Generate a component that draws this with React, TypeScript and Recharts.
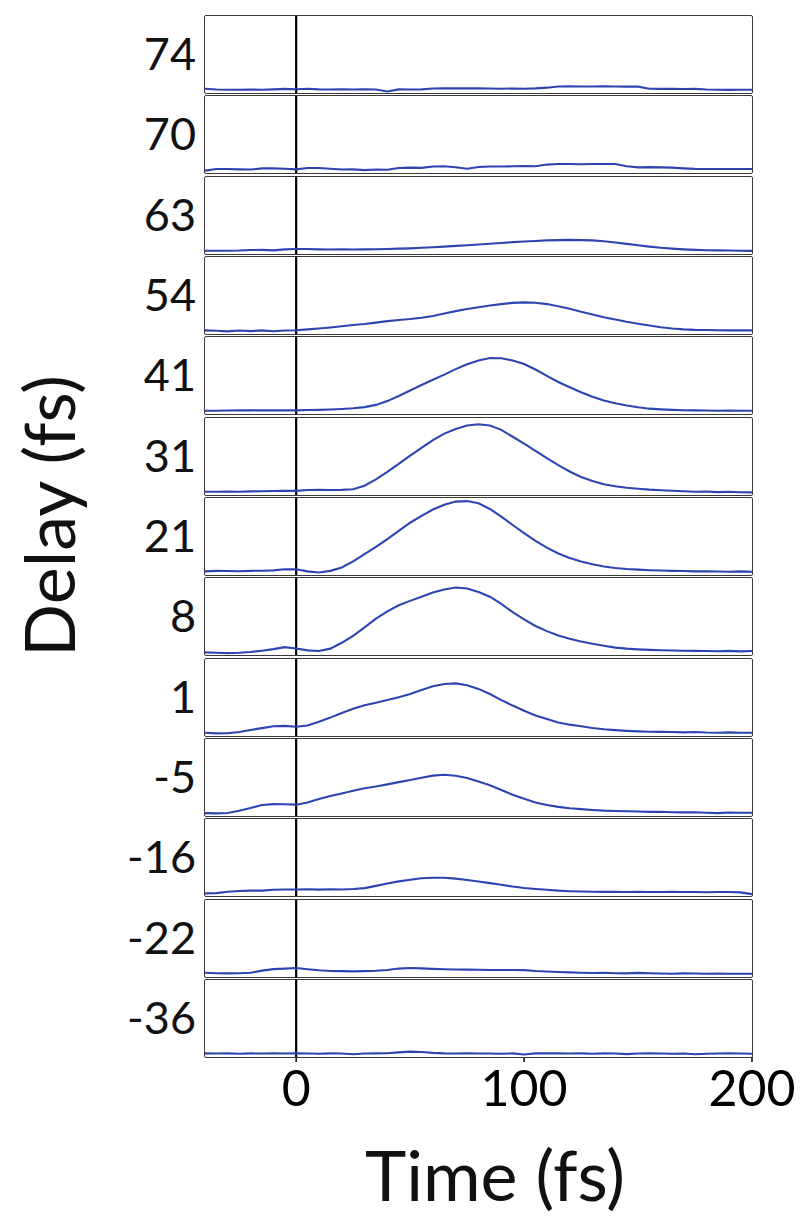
import React from 'react';
import { LineChart, Line, XAxis, YAxis, ReferenceLine } from 'recharts';

const TIME = [-40, -35, -30, -25, -20, -15, -10, -5, 0, 5, 10, 15, 20, 25, 30, 35, 40, 45, 50, 55, 60, 65, 70, 75, 80, 85, 90, 95, 100, 105, 110, 115, 120, 125, 130, 135, 140, 145, 150, 155, 160, 165, 170, 175, 180, 185, 190, 195, 200];

const DELAY_LABELS = ['74', '70', '63', '54', '41', '31', '21', '8', '1', '-5', '-16', '-22', '-36'];

const S74 = [0.06, 0.01, 0, 0, 0.01, 0, 0.02, 0.05, 0.03, 0.06, 0.02, 0.01, 0.02, 0.01, 0.02, 0.01, -0.1, 0.02, 0.01, 0.02, 0.07, 0.08, 0.09, 0.08, 0.09, 0.07, 0.06, 0.07, 0.06, 0.08, 0.12, 0.19, 0.2, 0.19, 0.19, 0.2, 0.19, 0.18, 0.18, 0.06, 0.05, 0.06, 0.04, 0.05, 0.01, 0, -0.01, 0, 0];
const S70 = [-0.05, 0.04, 0.04, 0.02, 0.01, 0.08, 0.08, 0.06, 0.02, 0.1, 0.1, 0.06, 0.01, 0.02, -0.02, 0.01, 0.0, 0.1, 0.12, 0.11, 0.19, 0.2, 0.14, 0.06, 0.16, 0.19, 0.19, 0.2, 0.22, 0.2, 0.3, 0.33, 0.33, 0.32, 0.33, 0.33, 0.33, 0.2, 0.14, 0.15, 0.14, 0.12, 0.08, 0.05, 0.04, 0.04, 0.04, 0.04, 0.04];
const S63 = [0, 0, 0, 0.01, 0.04, 0.05, 0.02, 0.08, 0.1, 0.1, 0.08, 0.07, 0.08, 0.07, 0.08, 0.09, 0.1, 0.12, 0.14, 0.17, 0.2, 0.24, 0.28, 0.32, 0.36, 0.41, 0.45, 0.5, 0.54, 0.57, 0.6, 0.62, 0.63, 0.62, 0.6, 0.55, 0.48, 0.4, 0.32, 0.24, 0.17, 0.12, 0.08, 0.05, 0.03, 0.02, 0.01, 0, -0.01];
const S54 = [0.02, 0, -0.04, 0.01, -0.02, 0.02, -0.03, 0.01, 0.03, 0.08, 0.13, 0.19, 0.26, 0.33, 0.39, 0.47, 0.56, 0.62, 0.68, 0.76, 0.86, 1.0, 1.14, 1.26, 1.37, 1.47, 1.55, 1.62, 1.65, 1.63, 1.55, 1.42, 1.28, 1.1, 0.94, 0.78, 0.65, 0.52, 0.41, 0.3, 0.2, 0.13, 0.08, 0.05, 0.04, 0.03, 0.02, 0.02, 0.02];
const S41 = [0, 0, 0.01, 0.03, 0.02, 0.03, 0.02, 0.03, 0.02, 0.04, 0.05, 0.07, 0.1, 0.14, 0.21, 0.34, 0.56, 0.86, 1.18, 1.5, 1.8, 2.1, 2.42, 2.7, 2.92, 3.07, 3.05, 2.92, 2.72, 2.4, 2.03, 1.67, 1.37, 1.08, 0.82, 0.6, 0.44, 0.3, 0.2, 0.12, 0.08, 0.05, 0.03, 0.02, 0.01, 0.0, 0.01, 0, 0];
const S31 = [0, 0, 0.01, 0, 0.02, 0.03, 0.04, 0.06, 0.05, 0.1, 0.11, 0.1, 0.11, 0.14, 0.35, 0.72, 1.15, 1.62, 2.1, 2.55, 3.0, 3.38, 3.65, 3.85, 3.93, 3.85, 3.6, 3.2, 2.8, 2.38, 1.95, 1.55, 1.18, 0.86, 0.62, 0.44, 0.32, 0.23, 0.17, 0.12, 0.09, 0.06, 0.03, 0.0, 0.01, -0.02, 0.0, -0.03, -0.04];
const S21 = [0.02, 0.05, 0.04, 0.03, 0.05, 0.06, 0.08, 0.14, 0.14, 0.02, -0.04, 0.05, 0.25, 0.6, 1.02, 1.45, 1.9, 2.38, 2.85, 3.25, 3.62, 3.9, 4.08, 4.11, 3.98, 3.65, 3.2, 2.72, 2.25, 1.8, 1.4, 1.06, 0.8, 0.6, 0.43, 0.3, 0.22, 0.16, 0.12, 0.09, 0.07, 0.05, 0.04, 0.02, 0.03, 0.01, 0.0, 0.02, 0.0];
const S8 = [-0.04, -0.06, -0.08, -0.06, -0.02, 0.06, 0.15, 0.27, 0.19, 0.08, 0.04, 0.18, 0.52, 0.92, 1.42, 1.92, 2.35, 2.7, 2.96, 3.2, 3.44, 3.62, 3.74, 3.68, 3.48, 3.2, 2.78, 2.3, 1.88, 1.5, 1.2, 0.95, 0.75, 0.6, 0.47, 0.35, 0.24, 0.18, 0.14, 0.11, 0.09, 0.07, 0.06, 0.05, 0.04, 0.03, 0.05, 0.02, 0.04];
const S1 = [0, -0.04, -0.03, 0.04, 0.16, 0.27, 0.38, 0.4, 0.35, 0.42, 0.64, 0.88, 1.15, 1.4, 1.6, 1.75, 1.9, 2.06, 2.25, 2.48, 2.7, 2.84, 2.87, 2.76, 2.55, 2.25, 1.9, 1.58, 1.28, 1.0, 0.8, 0.6, 0.47, 0.38, 0.28, 0.2, 0.15, 0.11, 0.08, 0.06, 0.05, 0.04, 0.02, 0.04, 0.01, 0.0, 0.02, 0.0, 0.0];
const SM5 = [-0.02, -0.04, -0.02, 0.12, 0.28, 0.45, 0.5, 0.49, 0.47, 0.6, 0.8, 0.97, 1.12, 1.28, 1.42, 1.53, 1.65, 1.78, 1.9, 2.04, 2.16, 2.21, 2.15, 2.02, 1.82, 1.6, 1.32, 1.05, 0.82, 0.6, 0.45, 0.34, 0.26, 0.21, 0.16, 0.12, 0.1, 0.09, 0.07, 0.05, 0.06, 0.03, 0.02, 0.03, 0.0, -0.02, 0.01, 0.0, 0.0];
const SM16 = [-0.04, -0.02, 0.06, 0.1, 0.12, 0.12, 0.17, 0.19, 0.19, 0.2, 0.18, 0.2, 0.19, 0.22, 0.27, 0.4, 0.54, 0.66, 0.76, 0.84, 0.87, 0.87, 0.82, 0.74, 0.65, 0.56, 0.46, 0.36, 0.28, 0.22, 0.17, 0.12, 0.09, 0.07, 0.06, 0.05, 0.06, 0.04, 0.05, 0.04, 0.04, 0.05, 0.04, 0.04, 0.03, 0.04, 0.04, 0.02, -0.08];
const SM22 = [0.06, 0.03, 0.02, 0.03, 0.06, 0.18, 0.27, 0.3, 0.33, 0.26, 0.2, 0.16, 0.15, 0.14, 0.15, 0.17, 0.22, 0.3, 0.33, 0.31, 0.28, 0.26, 0.25, 0.24, 0.23, 0.22, 0.22, 0.22, 0.21, 0.16, 0.13, 0.1, 0.08, 0.06, 0.04, 0.06, 0.03, 0.02, 0.05, 0.03, 0.01, 0.0, 0.02, 0.01, 0.0, 0.01, 0.0, 0.0, 0.0];
const SM36 = [0.02, 0.01, 0.02, 0.0, 0.02, 0.01, 0.02, 0.01, 0.02, 0.01, 0.0, 0.02, 0.01, -0.03, 0.01, 0.02, 0.03, 0.08, 0.12, 0.1, 0.05, 0.02, 0.01, 0.02, 0.01, 0.01, 0.0, 0.02, -0.04, 0.02, 0.03, 0.02, 0.01, 0.02, 0.0, 0.02, 0.01, -0.02, 0.01, 0.02, 0.01, 0.0, 0.01, -0.03, 0.0, 0.01, 0.02, 0.01, 0.0];

const SERIES = [S74, S70, S63, S54, S41, S31, S21, S8, S1, SM5, SM16, SM22, SM36];

const X_TICKS = [0, 100, 200];
const Y_TICKS = [0, 1, 2, 3, 4];

const FONT = 'Lato, "Open Sans", sans-serif';
const LINE_COLOR = '#2d45b0';

const LEFT = 205;
const PLOT_W = 547;
const PLOT_H = 77;
const FIRST_TOP = 16;
const STEP = 80.33;
const EXTRA_RIGHT = 60;
const AXIS_H = 70;

function Panel({ idx }: { idx: number }) {
  const data = TIME.map((t, i) => ({ t, v: SERIES[idx][i] }));
  const top = Math.round(FIRST_TOP + idx * STEP);
  const isLast = idx === SERIES.length - 1;
  const h = PLOT_H + (isLast ? AXIS_H : 0);
  return (
    <>
      <div style={{ position: 'absolute', left: LEFT, top }}>
        <LineChart
          width={PLOT_W + EXTRA_RIGHT}
          height={h}
          data={data}
          margin={{ top: 0, right: EXTRA_RIGHT, bottom: 0, left: 0 }}
          style={{ overflow: 'visible' }}
        >
          <XAxis
            dataKey="t"
            type="number"
            domain={[-40, 200]}
            ticks={X_TICKS}
            hide={!isLast}
            height={AXIS_H}
            axisLine={false}
            tickLine={{ stroke: '#000', strokeWidth: 1.5 }}
            tickSize={5}
            tick={{ fontSize: 50, fill: '#000', fontFamily: FONT, dy: 6 }}
            interval={0}
            allowDataOverflow
          />
          <YAxis
            type="number"
            domain={[-0.19, 4.29]}
            ticks={Y_TICKS}
            width={0}
            mirror
            axisLine={false}
            tickSize={4}
            tickLine={{ stroke: '#222', strokeWidth: 1.2 }}
            tickFormatter={() => ''}
            allowDataOverflow
          />
          <ReferenceLine x={0} stroke="#000" strokeWidth={2.2} ifOverflow="visible" />
          <Line
            type="linear"
            dataKey="v"
            stroke={LINE_COLOR}
            strokeWidth={2.1}
            dot={false}
            isAnimationActive={false}
          />
        </LineChart>
      </div>
      <div
        style={{
          position: 'absolute',
          left: LEFT - 1,
          top: top - 1,
          width: PLOT_W,
          height: PLOT_H,
          border: '1.6px solid #3a3a3a',
          borderRadius: 2,
          pointerEvents: 'none',
        }}
      />
      <div
        style={{
          position: 'absolute',
          left: 0,
          width: 196,
          top: top + 37 - 28,
          height: 56,
          lineHeight: '56px',
          textAlign: 'right',
          fontFamily: FONT,
          fontSize: 45,
          color: '#111',
        }}
      >
        {DELAY_LABELS[idx]}
      </div>
    </>
  );
}

export default function App() {
  return (
    <div
      style={{
        position: 'absolute',
        left: 0,
        top: 0,
        width: 810,
        height: 1217,
        background: '#fff',
        overflow: 'hidden',
      }}
    >
      {SERIES.map((_, i) => (
        <Panel key={i} idx={i} />
      ))}
      <div
        style={{
          position: 'absolute',
          left: 48 - 250,
          top: 516 - 45,
          width: 500,
          height: 90,
          lineHeight: '90px',
          textAlign: 'center',
          transform: 'rotate(-90deg)',
          fontFamily: FONT,
          fontSize: 70,
          color: '#111',
        }}
      >
        Delay (fs)
      </div>
      <div
        style={{
          position: 'absolute',
          left: 495 - 250,
          top: 1174 - 45,
          width: 500,
          height: 90,
          lineHeight: '90px',
          textAlign: 'center',
          fontFamily: FONT,
          fontSize: 70,
          color: '#111',
        }}
      >
        Time (fs)
      </div>
    </div>
  );
}
